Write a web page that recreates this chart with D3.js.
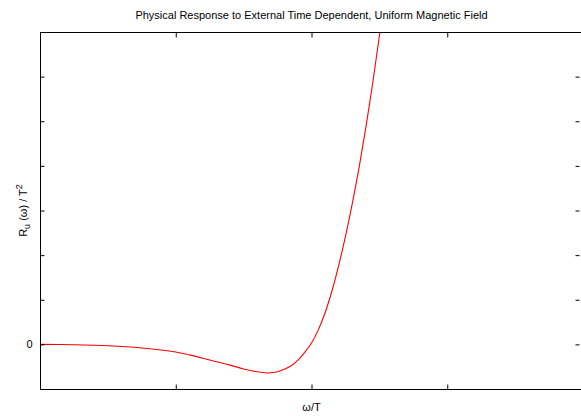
<!DOCTYPE html>
<html>
<head>
<meta charset="utf-8">
<script src="https://cdn.jsdelivr.net/npm/d3@7"></script>
<style>
  html, body { margin: 0; padding: 0; background: #fff; }
  svg { display: block; font-family: "Liberation Sans", Arial, sans-serif; }
</style>
</head>
<body>
<svg id="chart" width="581" height="416"></svg>
<script>
const title = "Physical Response to External Time Dependent, Uniform Magnetic Field";
const xLabel = "ω/T";
const omega =    [0, 0.25, 0.5, 0.75, 1.0, 1.1, 1.25, 1.4, 1.5, 1.6, 1.67, 1.7, 1.75, 1.8, 1.85, 1.9, 1.95, 2.0, 2.05, 2.1, 2.15, 2.2, 2.25, 2.3, 2.35, 2.4, 2.45, 2.5, 2.55];
const response = [0, -0.008, -0.03, -0.08, -0.17, -0.235, -0.35, -0.465, -0.55, -0.615, -0.64, -0.635, -0.612, -0.56, -0.48, -0.355, -0.18, 0.03, 0.325, 0.71, 1.19, 1.765, 2.42, 3.15, 3.955, 4.85, 5.835, 6.91, 8.09];
const xTicks = [1, 2, 3];
const yTicks = [0, 1, 2, 3, 4, 5, 6];
const yTickLabels = ["0", "", "", "", "", "", ""];
const xDomain = [0, 4];
const yDomain = [-1, 7];

(function () {
const svg = d3.select("#chart");
const mLeft = 40, mRight = 583, mTop = 32, mBottom = 389;

const x = d3.scaleLinear().domain(xDomain).range([mLeft, mRight]);
const y = d3.scaleLinear().domain(yDomain).range([mBottom, mTop]);

svg.append("defs").append("clipPath").attr("id", "clip")
  .append("rect").attr("x", mLeft).attr("y", mTop).attr("width", mRight - mLeft).attr("height", mBottom - mTop);

const line = d3.line().x((d, i) => x(omega[i])).y(d => y(d)).curve(d3.curveCatmullRom.alpha(0.5));
svg.append("path")
  .datum(response)
  .attr("clip-path", "url(#clip)")
  .attr("fill", "none")
  .attr("stroke", "#ff0000")
  .attr("stroke-width", 1.1)
  .attr("d", line);

const axisStyle = g => {
  g.select(".domain").remove();
  g.selectAll(".tick line").attr("stroke", "#000").attr("stroke-width", 1);
  g.selectAll(".tick text").attr("fill", "#000").style("font-size", "11px").style("font-family", "Liberation Sans, Arial, sans-serif");
};

svg.append("g").attr("transform", `translate(0,${mBottom + 0.5})`)
  .call(d3.axisBottom(x).tickValues(xTicks).tickSize(-5).tickFormat(""))
  .call(axisStyle);
svg.append("g").attr("transform", `translate(0,${mTop + 0.5})`)
  .call(d3.axisTop(x).tickValues(xTicks).tickSize(-5).tickFormat(""))
  .call(axisStyle);
svg.append("g").attr("transform", `translate(${mLeft + 0.5},0)`)
  .call(d3.axisLeft(y).tickValues(yTicks).tickSize(-4).tickPadding(8).tickFormat((d, i) => yTickLabels[i]))
  .call(axisStyle);
svg.append("g").attr("transform", `translate(${mRight - 3.5},0)`)
  .call(d3.axisRight(y).tickValues(yTicks).tickSize(-4).tickFormat(""))
  .call(axisStyle);

svg.append("rect")
  .attr("x", mLeft + 0.5).attr("y", mTop + 0.5)
  .attr("width", mRight - mLeft).attr("height", mBottom - mTop)
  .attr("fill", "none").attr("stroke", "#000").attr("stroke-width", 1);

svg.append("text")
  .attr("x", (mLeft + mRight) / 2).attr("y", 19)
  .attr("text-anchor", "middle")
  .style("font-size", "11px")
  .text(title);

svg.append("text")
  .attr("x", (mLeft + mRight) / 2).attr("y", 411)
  .attr("text-anchor", "middle")
  .style("font-size", "11px")
  .text(xLabel);

const yl = svg.append("text")
  .attr("transform", `translate(27,${(mTop + mBottom) / 2}) rotate(-90)`)
  .attr("text-anchor", "middle")
  .style("font-size", "11px");
yl.append("tspan").text("R");
yl.append("tspan").attr("dy", 3).style("font-size", "9px").text("u");
yl.append("tspan").attr("dy", -3).text(" (ω) / T");
yl.append("tspan").attr("dy", -5).style("font-size", "9px").text("2");
})();
</script>
</body>
</html>
